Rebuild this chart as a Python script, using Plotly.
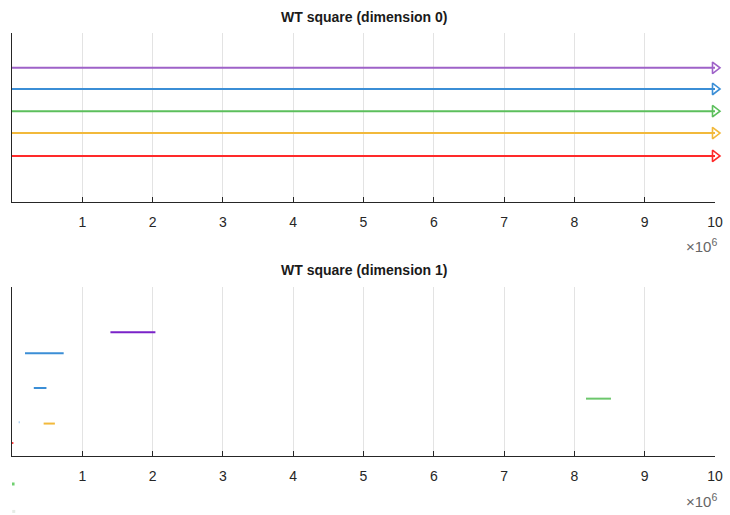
import plotly.graph_objects as go

# ---- data ----
top_title = "WT square (dimension 0)"
bot_title = "WT square (dimension 1)"
tick_vals = [1e6, 2e6, 3e6, 4e6, 5e6, 6e6, 7e6, 8e6, 9e6, 10e6]
tick_text = ["1", "2", "3", "4", "5", "6", "7", "8", "9", "10"]

# dimension 0 (infinite bars, drawn to the right edge with arrow)
d0_birth = [0, 0, 0, 0, 0]
d0_death = [10e6, 10e6, 10e6, 10e6, 10e6]
d0_y = [4.36, 6.53, 8.6, 10.7, 12.7]
d0_colors = ["#FF2A2A", "#F2B93B", "#5CBF5C", "#3B8ED6", "#9E62C8"]

# dimension 1
d1_birth = [1.40e6, 0.185e6, 0.31e6, 8.165e6, 0.095e6, 0.45e6, 0.0e6]
d1_death = [2.04e6, 0.735e6, 0.49e6, 8.52e6, 0.11e6, 0.61e6, 0.02e6]
d1_y = [11.71, 9.72, 6.44, 5.43, 3.2, 3.07, 1.23]
d1_colors = ["#7A22C8", "#3B8ED6", "#3B8ED6", "#6CC76C", "#9CC8F0", "#F2B93B", "#FF4040"]

# points lying below the lower axes
out_x = [0.015e6, 0.025e6]
out_y = [-2.65, -5.25]
out_colors = ["#6FD06F", "#E6ECE6"]

fig = go.Figure()

for b, d, y, c in zip(d0_birth, d0_death, d0_y, d0_colors):
    fig.add_trace(go.Scatter(x=[b, d], y=[y, y], mode="lines",
                             line=dict(color=c, width=2), xaxis="x", yaxis="y",
                             showlegend=False, hoverinfo="skip"))
    fig.add_trace(go.Scatter(x=[d], y=[y], mode="markers",
                             marker=dict(symbol="triangle-right-open", size=10,
                                         color=c, line=dict(color=c, width=1.6)),
                             cliponaxis=False, xaxis="x", yaxis="y",
                             showlegend=False, hoverinfo="skip"))

for b, d, y, c in zip(d1_birth, d1_death, d1_y, d1_colors):
    fig.add_trace(go.Scatter(x=[b, d], y=[y, y], mode="lines",
                             line=dict(color=c, width=2), xaxis="x2", yaxis="y2",
                             showlegend=False, hoverinfo="skip"))

# invisible axes sharing the lower scale but extending to the page bottom
fig.add_trace(go.Scatter(x=out_x, y=out_y, mode="markers",
                         marker=dict(symbol="square", size=3, color=out_colors,
                                     line=dict(width=0)),
                         xaxis="x3", yaxis="y3",
                         showlegend=False, hoverinfo="skip"))

W, H = 730, 515
xd = [12 / W, 715 / W]
top_dom = [(H - 202) / H, (H - 33) / H]
bot_dom = [(H - 456) / H, (H - 287) / H]
px_per_unit = 169 / 16.0
y3_low = -(H - 456) / px_per_unit

xaxis_common = dict(range=[0, 10e6], tickvals=tick_vals, ticktext=tick_text,
                    ticks="inside", ticklen=5, tickcolor="#262626", tickwidth=1,
                    showline=True, linecolor="#262626", linewidth=1,
                    showgrid=True, gridcolor="#E3E3E3", gridwidth=1,
                    zeroline=False, automargin=False, ticklabelstandoff=7,
                    tickfont=dict(size=14, color="#262626",
                                  family="Liberation Sans, Arial"),
                    domain=xd, fixedrange=True)
yaxis_common = dict(range=[0, 16], showticklabels=False, ticks="",
                    showline=True, linecolor="#262626", linewidth=1,
                    showgrid=False, zeroline=False, automargin=False,
                    fixedrange=True)
hidden = dict(visible=False, showgrid=False, zeroline=False, showline=False,
              showticklabels=False, automargin=False, fixedrange=True)

fig.update_layout(
    width=W, height=H,
    margin=dict(l=0, r=0, t=0, b=0),
    paper_bgcolor="white", plot_bgcolor="rgba(0,0,0,0)",
    xaxis=dict(**xaxis_common, anchor="y"),
    yaxis=dict(**yaxis_common, domain=top_dom, anchor="x"),
    xaxis2=dict(**xaxis_common, anchor="y2"),
    yaxis2=dict(**yaxis_common, domain=bot_dom, anchor="x2"),
    xaxis3=dict(range=[0, 10e6], domain=xd, anchor="y3", **hidden),
    yaxis3=dict(range=[y3_low, 16], domain=[0, bot_dom[1]], anchor="x3", **hidden),
    annotations=[
        dict(text="<b>" + top_title + "</b>", x=363.5 / W, y=(H - 17) / H,
             xref="paper", yref="paper", showarrow=False,
             font=dict(size=14, color="#1a1a1a", family="Liberation Sans, Arial"),
             xanchor="center", yanchor="middle"),
        dict(text="<b>" + bot_title + "</b>", x=363.5 / W, y=(H - 270) / H,
             xref="paper", yref="paper", showarrow=False,
             font=dict(size=14, color="#1a1a1a", family="Liberation Sans, Arial"),
             xanchor="center", yanchor="middle"),
        dict(text="×10<sup>6</sup>", x=719 / W, y=(H - 245) / H,
             xref="paper", yref="paper", showarrow=False,
             font=dict(size=15, color="#666666", family="Liberation Sans, Arial"),
             xanchor="right", yanchor="middle"),
        dict(text="×10<sup>6</sup>", x=719 / W, y=(H - 500) / H,
             xref="paper", yref="paper", showarrow=False,
             font=dict(size=15, color="#666666", family="Liberation Sans, Arial"),
             xanchor="right", yanchor="middle"),
    ],
)

fig.write_html("out.html")
